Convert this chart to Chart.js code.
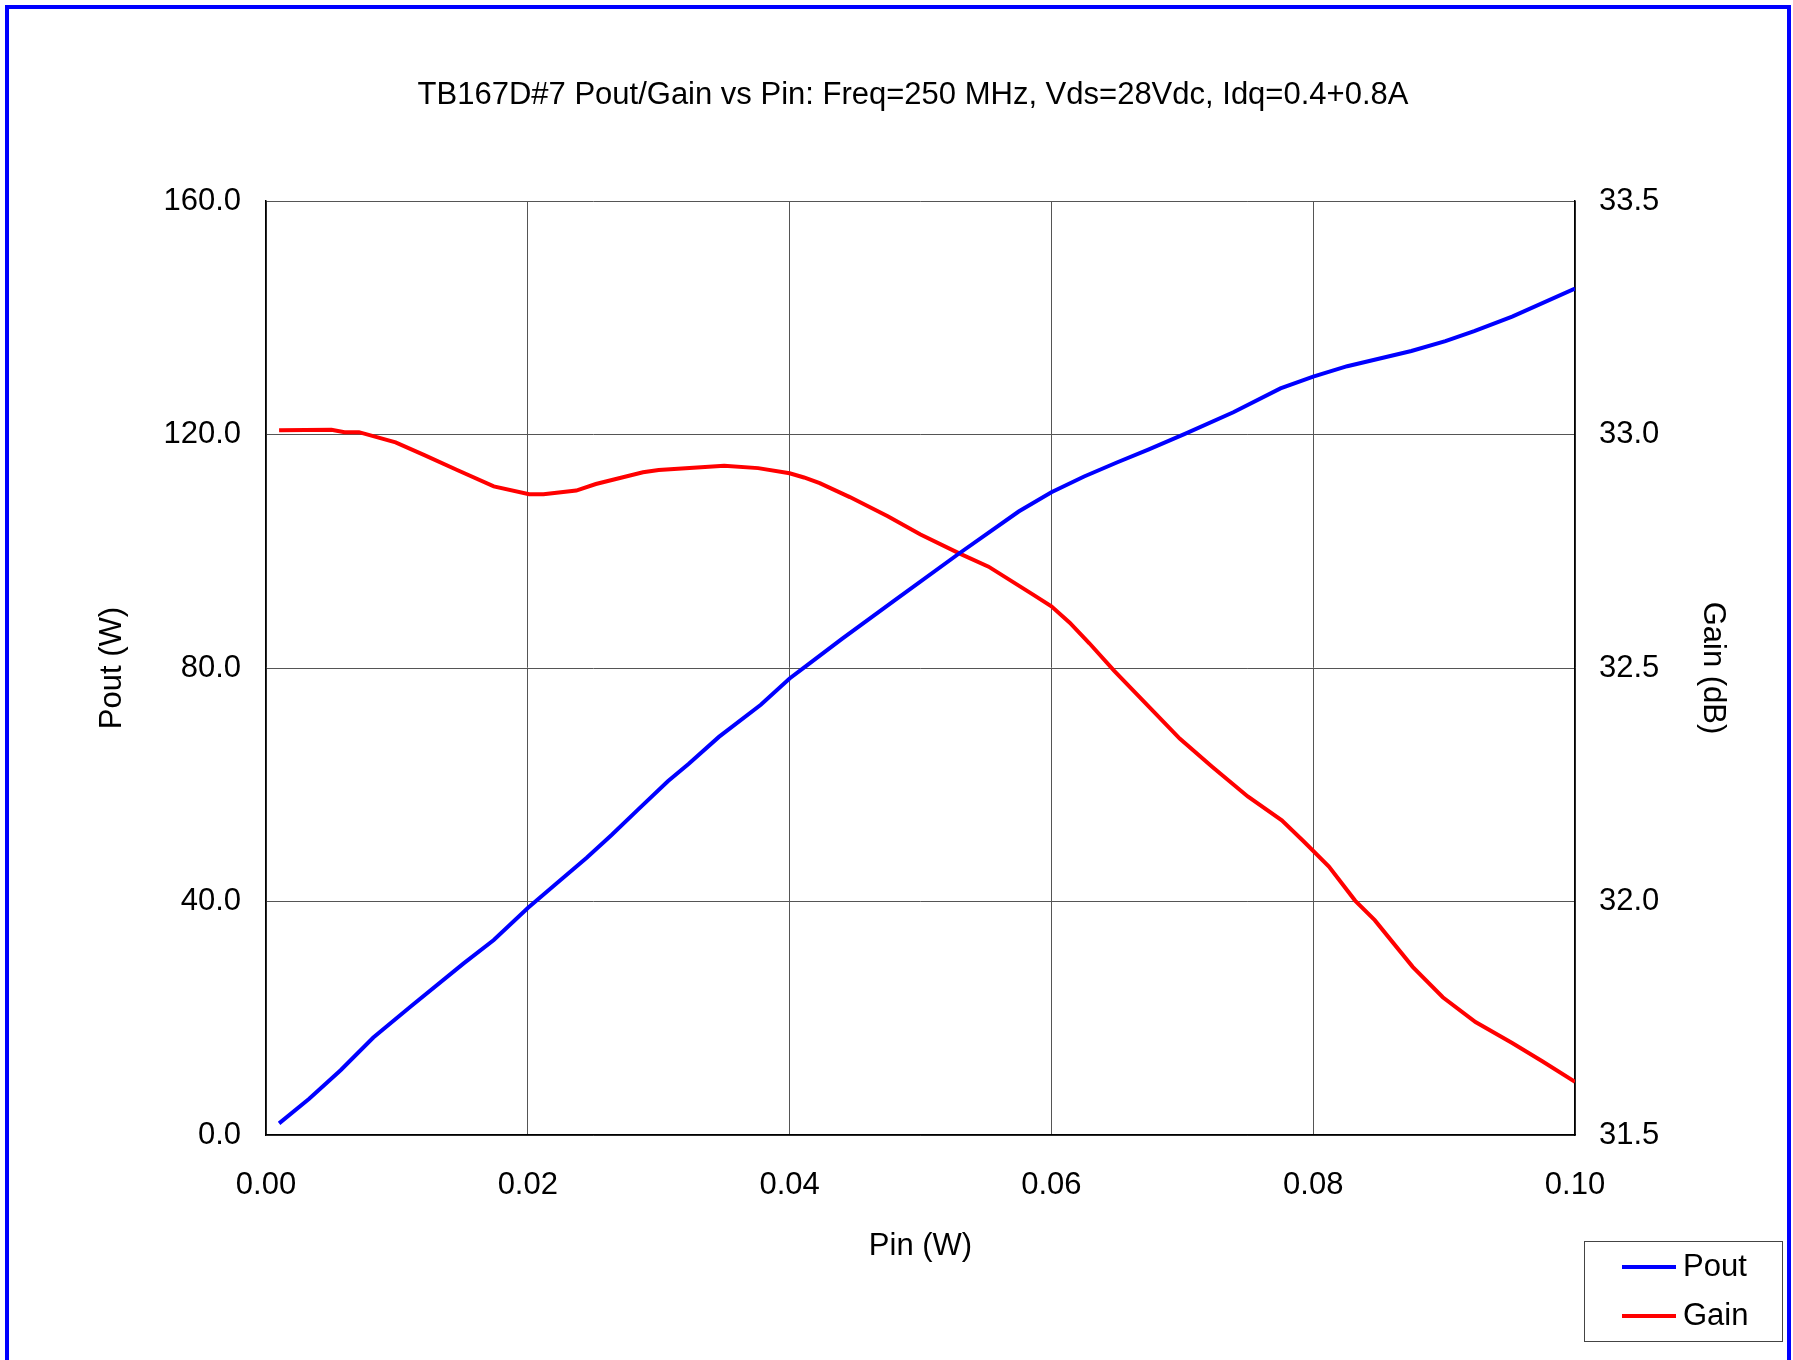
<!DOCTYPE html>
<html>
<head>
<meta charset="utf-8">
<script src="https://cdn.jsdelivr.net/npm/chart.js@4.4.1/dist/chart.umd.min.js"></script>
<style>
  html, body { margin: 0; padding: 0; background: #fff; }
</style>
</head>
<body>
<canvas id="powerChart" width="1793" height="1360"></canvas>
<script>
// Pout vs Pin (W)
const pinPout = [0.0010, 0.0033, 0.0057, 0.0082, 0.0111, 0.0151, 0.0174, 0.0200, 0.0221, 0.0245,
                 0.0264, 0.0284, 0.0307, 0.0323, 0.0346, 0.0378, 0.0400, 0.0413, 0.0440, 0.0481,
                 0.0530, 0.0575, 0.0600, 0.0625, 0.0650, 0.0674, 0.0702, 0.0739, 0.0775, 0.0800,
                 0.0826, 0.0875, 0.0901, 0.0923, 0.0952, 0.1000];
const pout = [2.0, 6.2, 11.1, 16.7, 22.1, 29.4, 33.4, 38.9, 42.9, 47.5,
              51.4, 55.7, 60.6, 63.6, 68.2, 73.7, 78.2, 80.4, 85.0, 91.7,
              99.7, 106.8, 110.1, 112.8, 115.2, 117.4, 120.1, 123.8, 127.9, 129.9,
              131.7, 134.3, 136.0, 137.7, 140.2, 145.0];

// Gain vs Pin (dB)
const pinGain = [0.0010, 0.0050, 0.0060, 0.0071, 0.0099, 0.0121, 0.0146, 0.0174, 0.0201, 0.0212,
                 0.0237, 0.0252, 0.0288, 0.0300, 0.0350, 0.0376, 0.0400, 0.0411, 0.0423, 0.0446,
                 0.0475, 0.0500, 0.0530, 0.0552, 0.0586, 0.0600, 0.0614, 0.0629, 0.0648, 0.0677,
                 0.0698, 0.0723, 0.0750, 0.0776, 0.0793, 0.0812, 0.0832, 0.0847, 0.0876, 0.0899,
                 0.0924, 0.0952, 0.0975, 0.1000];
const gain = [33.009, 33.010, 33.005, 33.005, 32.983, 32.956, 32.924, 32.889, 32.872, 32.872,
              32.880, 32.894, 32.919, 32.924, 32.933, 32.928, 32.917, 32.908, 32.896, 32.866,
              32.825, 32.786, 32.745, 32.717, 32.657, 32.632, 32.597, 32.553, 32.494, 32.410,
              32.349, 32.288, 32.225, 32.174, 32.128, 32.075, 32.002, 31.960, 31.860, 31.795,
              31.742, 31.697, 31.658, 31.614];

const chartTitle = "TB167D#7 Pout/Gain vs Pin: Freq=250 MHz, Vds=28Vdc, Idq=0.4+0.8A";
const fontFamily = "'Liberation Sans', Arial, sans-serif";

function toPoints(xs, ys) {
    return xs.map((x, i) => ({ x: x, y: ys[i] }));
}

// blue frame round the whole chart, plus the title (sits a bit right of centre)
const framePlugin = {
    id: "frame",
    afterDraw(chart) {
        const ctx = chart.ctx;
        ctx.save();
        ctx.strokeStyle = "#0000ff";
        ctx.lineWidth = 4;
        ctx.strokeRect(7, 7, 1782, 1400);
        ctx.fillStyle = "#000";
        ctx.font = "31px " + fontFamily;
        ctx.textAlign = "center";
        ctx.textBaseline = "alphabetic";
        ctx.fillText(chartTitle, 913, 104);
        ctx.restore();
    }
};

// boxed legend at the bottom right corner
const boxLegend = {
    id: "boxLegend",
    afterDraw(chart) {
        const ctx = chart.ctx;
        const x = 1584, y = 1241, w = 198, h = 100;
        ctx.save();
        ctx.strokeStyle = "#444";
        ctx.lineWidth = 1;
        ctx.strokeRect(x + 0.5, y + 0.5, w, h);
        ctx.font = "31px " + fontFamily;
        ctx.textBaseline = "middle";
        ctx.fillStyle = "#000";
        chart.data.datasets.forEach((ds, i) => {
            const ly = y + 26 + i * 49;
            ctx.strokeStyle = ds.borderColor;
            ctx.lineWidth = 4;
            ctx.beginPath();
            ctx.moveTo(x + 38, ly);
            ctx.lineTo(x + 92, ly);
            ctx.stroke();
            ctx.fillText(ds.label, x + 99, ly);
        });
        ctx.restore();
    }
};

const tickFont = { family: fontFamily, size: 31 };

new Chart(document.getElementById("powerChart"), {
    type: "line",
    data: {
        datasets: [{
            label: "Pout",
            data: toPoints(pinPout, pout),
            borderColor: "#0000ff",
            borderWidth: 4,
            pointRadius: 0,
            tension: 0,
            yAxisID: "y"
        }, {
            label: "Gain",
            data: toPoints(pinGain, gain),
            borderColor: "#ff0000",
            borderWidth: 4,
            pointRadius: 0,
            tension: 0,
            yAxisID: "y1"
        }]
    },
    options: {
        responsive: false,
        animation: false,
        devicePixelRatio: 1,
        layout: { padding: { top: 201, left: 0, right: 0, bottom: 0 } },
        plugins: {
            legend: { display: false },
            tooltip: { enabled: false },
            title: { display: false }
        },
        scales: {
            x: {
                type: "linear",
                min: 0,
                max: 0.1,
                afterFit: s => { s.height = 225; },
                ticks: {
                    stepSize: 0.02,
                    padding: 32,
                    color: "#000",
                    font: tickFont,
                    callback: v => v.toFixed(2)
                },
                grid: { color: "#555", lineWidth: 1, drawTicks: false },
                border: { color: "#000", width: 1.5 },
                title: {
                    display: true,
                    text: "Pin (W)",
                    color: "#000",
                    font: tickFont,
                    padding: { top: 0, bottom: 95 }
                }
            },
            y: {
                position: "left",
                min: 0,
                max: 160,
                afterFit: s => { s.width = 266; },
                ticks: {
                    stepSize: 40,
                    padding: 25,
                    color: "#000",
                    font: tickFont,
                    callback: v => v.toFixed(1)
                },
                grid: { color: "#555", lineWidth: 1, drawTicks: false },
                border: { color: "#000", width: 1.5 },
                title: {
                    display: true,
                    text: "Pout (W)",
                    color: "#000",
                    font: tickFont,
                    padding: { top: 94, bottom: 0 }
                }
            },
            y1: {
                position: "right",
                min: 31.5,
                max: 33.5,
                afterFit: s => { s.width = 218; },
                ticks: {
                    stepSize: 0.5,
                    padding: 24,
                    color: "#000",
                    font: tickFont,
                    callback: v => v.toFixed(1)
                },
                grid: { drawOnChartArea: false, drawTicks: false },
                border: { color: "#000", width: 1.5 },
                title: {
                    display: true,
                    text: "Gain (dB)",
                    color: "#000",
                    font: tickFont,
                    padding: { top: 62, bottom: 0 }
                }
            }
        }
    },
    plugins: [framePlugin, boxLegend]
});
</script>
</body>
</html>
